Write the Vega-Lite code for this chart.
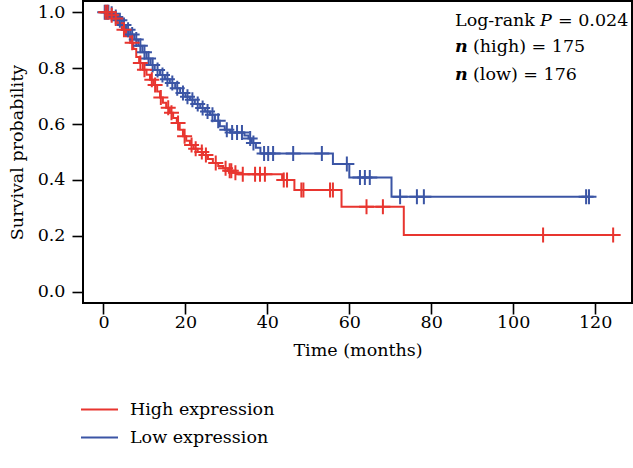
{
  "$schema": "https://vega.github.io/schema/vega-lite/v6.json",
  "autosize": {"type": "none"},
  "width": 549,
  "height": 302,
  "padding": {"left": 83, "top": 1, "right": 1, "bottom": 165},
  "background": "white",
  "config": {
    "view": {"stroke": "black", "strokeWidth": 2},
    "font": "DejaVu Serif",
    "axis": {"grid": false, "domain": false, "tickColor": "black", "tickWidth": 1.6, "tickSize": 11, "labelColor": "black", "titleColor": "black", "labelFont": "DejaVu Serif", "titleFont": "DejaVu Serif", "labelFontSize": 17.5, "titleFontSize": 17.5, "titleFontWeight": "normal"}
  },
  "datasets": {
    "km": [
    {"group": "Low expression", "kind": "step", "t": 0, "s": 1.0},
    {"group": "Low expression", "kind": "step", "t": 1.5, "s": 0.994},
    {"group": "Low expression", "kind": "step", "t": 2.5, "s": 0.983},
    {"group": "Low expression", "kind": "step", "t": 3.5, "s": 0.971},
    {"group": "Low expression", "kind": "step", "t": 4.5, "s": 0.954},
    {"group": "Low expression", "kind": "step", "t": 5.5, "s": 0.937},
    {"group": "Low expression", "kind": "step", "t": 6.5, "s": 0.920},
    {"group": "Low expression", "kind": "step", "t": 7.5, "s": 0.902},
    {"group": "Low expression", "kind": "step", "t": 8.5, "s": 0.880},
    {"group": "Low expression", "kind": "step", "t": 9.5, "s": 0.857},
    {"group": "Low expression", "kind": "step", "t": 10.5, "s": 0.834},
    {"group": "Low expression", "kind": "step", "t": 11.5, "s": 0.811},
    {"group": "Low expression", "kind": "step", "t": 12.5, "s": 0.793},
    {"group": "Low expression", "kind": "step", "t": 13.8, "s": 0.775},
    {"group": "Low expression", "kind": "step", "t": 15.0, "s": 0.760},
    {"group": "Low expression", "kind": "step", "t": 16.2, "s": 0.747},
    {"group": "Low expression", "kind": "step", "t": 17.5, "s": 0.728},
    {"group": "Low expression", "kind": "step", "t": 18.7, "s": 0.711},
    {"group": "Low expression", "kind": "step", "t": 20.0, "s": 0.698},
    {"group": "Low expression", "kind": "step", "t": 21.1, "s": 0.687},
    {"group": "Low expression", "kind": "step", "t": 22.3, "s": 0.672},
    {"group": "Low expression", "kind": "step", "t": 23.6, "s": 0.657},
    {"group": "Low expression", "kind": "step", "t": 24.8, "s": 0.645},
    {"group": "Low expression", "kind": "step", "t": 26.0, "s": 0.633},
    {"group": "Low expression", "kind": "step", "t": 27.2, "s": 0.612},
    {"group": "Low expression", "kind": "step", "t": 28.4, "s": 0.592},
    {"group": "Low expression", "kind": "step", "t": 29.6, "s": 0.580},
    {"group": "Low expression", "kind": "step", "t": 30.9, "s": 0.570},
    {"group": "Low expression", "kind": "step", "t": 34.4, "s": 0.559},
    {"group": "Low expression", "kind": "step", "t": 35.4, "s": 0.548},
    {"group": "Low expression", "kind": "step", "t": 36.2, "s": 0.532},
    {"group": "Low expression", "kind": "step", "t": 37.2, "s": 0.515},
    {"group": "Low expression", "kind": "step", "t": 38.3, "s": 0.495},
    {"group": "Low expression", "kind": "step", "t": 56.0, "s": 0.457},
    {"group": "Low expression", "kind": "step", "t": 60.0, "s": 0.409},
    {"group": "Low expression", "kind": "step", "t": 70.3, "s": 0.340},
    {"group": "Low expression", "kind": "step", "t": 118.5, "s": 0.340},
    {"group": "High expression", "kind": "step", "t": 0, "s": 1.0},
    {"group": "High expression", "kind": "step", "t": 1.5, "s": 0.989},
    {"group": "High expression", "kind": "step", "t": 2.5, "s": 0.977},
    {"group": "High expression", "kind": "step", "t": 3.5, "s": 0.960},
    {"group": "High expression", "kind": "step", "t": 4.5, "s": 0.937},
    {"group": "High expression", "kind": "step", "t": 5.5, "s": 0.914},
    {"group": "High expression", "kind": "step", "t": 6.5, "s": 0.891},
    {"group": "High expression", "kind": "step", "t": 7.3, "s": 0.868},
    {"group": "High expression", "kind": "step", "t": 8.0, "s": 0.840},
    {"group": "High expression", "kind": "step", "t": 8.7, "s": 0.818},
    {"group": "High expression", "kind": "step", "t": 9.6, "s": 0.794},
    {"group": "High expression", "kind": "step", "t": 10.5, "s": 0.776},
    {"group": "High expression", "kind": "step", "t": 11.35, "s": 0.758},
    {"group": "High expression", "kind": "step", "t": 12.2, "s": 0.740},
    {"group": "High expression", "kind": "step", "t": 13.1, "s": 0.716},
    {"group": "High expression", "kind": "step", "t": 13.8, "s": 0.695},
    {"group": "High expression", "kind": "step", "t": 14.5, "s": 0.676},
    {"group": "High expression", "kind": "step", "t": 15.3, "s": 0.658},
    {"group": "High expression", "kind": "step", "t": 16.2, "s": 0.640},
    {"group": "High expression", "kind": "step", "t": 17.0, "s": 0.622},
    {"group": "High expression", "kind": "step", "t": 17.9, "s": 0.604},
    {"group": "High expression", "kind": "step", "t": 18.6, "s": 0.580},
    {"group": "High expression", "kind": "step", "t": 19.4, "s": 0.556},
    {"group": "High expression", "kind": "step", "t": 20.2, "s": 0.540},
    {"group": "High expression", "kind": "step", "t": 21.1, "s": 0.525},
    {"group": "High expression", "kind": "step", "t": 22.0, "s": 0.512},
    {"group": "High expression", "kind": "step", "t": 23.0, "s": 0.500},
    {"group": "High expression", "kind": "step", "t": 24.3, "s": 0.489},
    {"group": "High expression", "kind": "step", "t": 25.5, "s": 0.475},
    {"group": "High expression", "kind": "step", "t": 26.7, "s": 0.461},
    {"group": "High expression", "kind": "step", "t": 28.0, "s": 0.450},
    {"group": "High expression", "kind": "step", "t": 29.2, "s": 0.442},
    {"group": "High expression", "kind": "step", "t": 30.4, "s": 0.433},
    {"group": "High expression", "kind": "step", "t": 31.6, "s": 0.426},
    {"group": "High expression", "kind": "step", "t": 33.0, "s": 0.420},
    {"group": "High expression", "kind": "step", "t": 43.6, "s": 0.400},
    {"group": "High expression", "kind": "step", "t": 46.6, "s": 0.364},
    {"group": "High expression", "kind": "step", "t": 58.1, "s": 0.304},
    {"group": "High expression", "kind": "step", "t": 73.3, "s": 0.203},
    {"group": "High expression", "kind": "step", "t": 124.4, "s": 0.203},
    {"group": "Low expression", "kind": "censor", "t": 0.3, "s": 1.0},
    {"group": "Low expression", "kind": "censor", "t": 0.8, "s": 1.0},
    {"group": "Low expression", "kind": "censor", "t": 1.2, "s": 1.0},
    {"group": "Low expression", "kind": "censor", "t": 2.0, "s": 0.994},
    {"group": "Low expression", "kind": "censor", "t": 3.0, "s": 0.983},
    {"group": "Low expression", "kind": "censor", "t": 4.0, "s": 0.971},
    {"group": "Low expression", "kind": "censor", "t": 5.0, "s": 0.954},
    {"group": "Low expression", "kind": "censor", "t": 6.0, "s": 0.937},
    {"group": "Low expression", "kind": "censor", "t": 7.0, "s": 0.920},
    {"group": "Low expression", "kind": "censor", "t": 8.0, "s": 0.902},
    {"group": "Low expression", "kind": "censor", "t": 9.0, "s": 0.880},
    {"group": "Low expression", "kind": "censor", "t": 10.0, "s": 0.857},
    {"group": "Low expression", "kind": "censor", "t": 11.0, "s": 0.834},
    {"group": "Low expression", "kind": "censor", "t": 12.0, "s": 0.811},
    {"group": "Low expression", "kind": "censor", "t": 13.2, "s": 0.793},
    {"group": "Low expression", "kind": "censor", "t": 14.4, "s": 0.775},
    {"group": "Low expression", "kind": "censor", "t": 15.6, "s": 0.760},
    {"group": "Low expression", "kind": "censor", "t": 16.8, "s": 0.747},
    {"group": "Low expression", "kind": "censor", "t": 18.0, "s": 0.728},
    {"group": "Low expression", "kind": "censor", "t": 19.4, "s": 0.711},
    {"group": "Low expression", "kind": "censor", "t": 20.5, "s": 0.698},
    {"group": "Low expression", "kind": "censor", "t": 21.7, "s": 0.687},
    {"group": "Low expression", "kind": "censor", "t": 23.0, "s": 0.672},
    {"group": "Low expression", "kind": "censor", "t": 24.2, "s": 0.657},
    {"group": "Low expression", "kind": "censor", "t": 25.4, "s": 0.645},
    {"group": "Low expression", "kind": "censor", "t": 26.6, "s": 0.633},
    {"group": "Low expression", "kind": "censor", "t": 28.0, "s": 0.612},
    {"group": "Low expression", "kind": "censor", "t": 30.1, "s": 0.580},
    {"group": "Low expression", "kind": "censor", "t": 31.4, "s": 0.570},
    {"group": "Low expression", "kind": "censor", "t": 32.6, "s": 0.570},
    {"group": "Low expression", "kind": "censor", "t": 33.8, "s": 0.570},
    {"group": "Low expression", "kind": "censor", "t": 35.8, "s": 0.548},
    {"group": "Low expression", "kind": "censor", "t": 36.6, "s": 0.532},
    {"group": "Low expression", "kind": "censor", "t": 39.2, "s": 0.495},
    {"group": "Low expression", "kind": "censor", "t": 40.2, "s": 0.495},
    {"group": "Low expression", "kind": "censor", "t": 41.4, "s": 0.495},
    {"group": "Low expression", "kind": "censor", "t": 46.3, "s": 0.495},
    {"group": "Low expression", "kind": "censor", "t": 53.3, "s": 0.495},
    {"group": "Low expression", "kind": "censor", "t": 59.4, "s": 0.457},
    {"group": "Low expression", "kind": "censor", "t": 62.6, "s": 0.409},
    {"group": "Low expression", "kind": "censor", "t": 63.8, "s": 0.409},
    {"group": "Low expression", "kind": "censor", "t": 65.0, "s": 0.409},
    {"group": "Low expression", "kind": "censor", "t": 72.4, "s": 0.340},
    {"group": "Low expression", "kind": "censor", "t": 76.5, "s": 0.340},
    {"group": "Low expression", "kind": "censor", "t": 78.2, "s": 0.340},
    {"group": "Low expression", "kind": "censor", "t": 117.8, "s": 0.340},
    {"group": "Low expression", "kind": "censor", "t": 118.5, "s": 0.340},
    {"group": "High expression", "kind": "censor", "t": 0.5, "s": 1.0},
    {"group": "High expression", "kind": "censor", "t": 1.0, "s": 1.0},
    {"group": "High expression", "kind": "censor", "t": 2.0, "s": 0.989},
    {"group": "High expression", "kind": "censor", "t": 3.0, "s": 0.977},
    {"group": "High expression", "kind": "censor", "t": 5.0, "s": 0.937},
    {"group": "High expression", "kind": "censor", "t": 7.0, "s": 0.891},
    {"group": "High expression", "kind": "censor", "t": 9.0, "s": 0.818},
    {"group": "High expression", "kind": "censor", "t": 10.0, "s": 0.794},
    {"group": "High expression", "kind": "censor", "t": 11.8, "s": 0.758},
    {"group": "High expression", "kind": "censor", "t": 12.6, "s": 0.740},
    {"group": "High expression", "kind": "censor", "t": 14.0, "s": 0.695},
    {"group": "High expression", "kind": "censor", "t": 15.8, "s": 0.658},
    {"group": "High expression", "kind": "censor", "t": 16.6, "s": 0.640},
    {"group": "High expression", "kind": "censor", "t": 18.2, "s": 0.604},
    {"group": "High expression", "kind": "censor", "t": 19.8, "s": 0.556},
    {"group": "High expression", "kind": "censor", "t": 21.5, "s": 0.525},
    {"group": "High expression", "kind": "censor", "t": 22.5, "s": 0.512},
    {"group": "High expression", "kind": "censor", "t": 24.0, "s": 0.500},
    {"group": "High expression", "kind": "censor", "t": 25.0, "s": 0.489},
    {"group": "High expression", "kind": "censor", "t": 27.4, "s": 0.461},
    {"group": "High expression", "kind": "censor", "t": 29.8, "s": 0.442},
    {"group": "High expression", "kind": "censor", "t": 30.8, "s": 0.433},
    {"group": "High expression", "kind": "censor", "t": 31.2, "s": 0.433},
    {"group": "High expression", "kind": "censor", "t": 32.2, "s": 0.426},
    {"group": "High expression", "kind": "censor", "t": 34.0, "s": 0.420},
    {"group": "High expression", "kind": "censor", "t": 37.0, "s": 0.420},
    {"group": "High expression", "kind": "censor", "t": 38.2, "s": 0.420},
    {"group": "High expression", "kind": "censor", "t": 39.4, "s": 0.420},
    {"group": "High expression", "kind": "censor", "t": 44.0, "s": 0.400},
    {"group": "High expression", "kind": "censor", "t": 44.8, "s": 0.400},
    {"group": "High expression", "kind": "censor", "t": 48.3, "s": 0.364},
    {"group": "High expression", "kind": "censor", "t": 48.8, "s": 0.364},
    {"group": "High expression", "kind": "censor", "t": 55.3, "s": 0.364},
    {"group": "High expression", "kind": "censor", "t": 56.0, "s": 0.364},
    {"group": "High expression", "kind": "censor", "t": 64.2, "s": 0.304},
    {"group": "High expression", "kind": "censor", "t": 68.2, "s": 0.304},
    {"group": "High expression", "kind": "censor", "t": 107.3, "s": 0.203},
    {"group": "High expression", "kind": "censor", "t": 124.4, "s": 0.203}
    ],
    "notes": [
      {"line": 1, "part": "a", "label": "Log-rank"},
      {"line": 1, "part": "b", "label": "P"},
      {"line": 1, "part": "c", "label": "= 0.024"},
      {"line": 2, "part": "a", "label": "n"},
      {"line": 2, "part": "c", "label": "(high) = 175"},
      {"line": 3, "part": "a", "label": "n"},
      {"line": 3, "part": "c", "label": "(low) = 176"}
    ]
  },
  "data": {"name": "km"},
  "layer": [
    {"transform": [{"filter": "datum.kind === 'step'"}],
     "mark": {"type": "line", "interpolate": "step-after", "strokeWidth": 2},
     "encoding": {
      "x": {"field": "t", "type": "quantitative", "scale": {"domain": [-5, 129], "nice": false, "zero": false},
        "axis": {"values": [0, 20, 40, 60, 80, 100, 120], "title": "Time (months)", "labelPadding": -1, "titlePadding": 11}},
      "y": {"field": "s", "type": "quantitative", "scale": {"domain": [-0.04, 1.04], "nice": false, "zero": false},
        "axis": {"values": [0, 0.2, 0.4, 0.6, 0.8, 1.0], "format": ".1f", "title": "Survival probability", "labelPadding": 7, "titlePadding": 11}},
      "color": {"field": "group", "type": "nominal",
      "scale": {"domain": ["High expression", "Low expression"], "range": ["#e8352f", "#3b55a5"]},
      "legend": {"orient": "none", "legendX": -3, "legendY": 389, "direction": "vertical", "title": null, "symbolType": "stroke", "symbolSize": 1369, "symbolStrokeWidth": 2, "labelFont": "DejaVu Serif", "labelFontSize": 17.5, "labelColor": "black", "labelOffset": 11, "rowPadding": -28}}}},
    {"transform": [{"filter": "datum.kind === 'censor'"}],
     "mark": {"type": "point", "shape": "M-1,0H1M0,-1V1", "filled": false, "size": 225, "strokeWidth": 2, "opacity": 1},
     "encoding": {
      "x": {"field": "t", "type": "quantitative"},
      "y": {"field": "s", "type": "quantitative"},
      "color": {"field": "group", "type": "nominal"}}},
    {"data": {"name": "notes"},
     "transform": [{"filter": "datum.part === 'a' && datum.line === 1"}],
     "mark": {"type": "text", "align": "left", "baseline": "middle", "font": "DejaVu Serif", "fontSize": 17.5, "fill": "black"},
     "encoding": {"x": {"datum": 85.8}, "y": {"datum": 0.969}, "text": {"field": "label"}}},
    {"data": {"name": "notes"},
     "transform": [{"filter": "datum.part === 'b' && datum.line === 1"}],
     "mark": {"type": "text", "align": "left", "baseline": "middle", "font": "DejaVu Serif", "fontSize": 17.5, "fill": "black", "fontStyle": "italic", "dx": 85},
     "encoding": {"x": {"datum": 85.8}, "y": {"datum": 0.969}, "text": {"field": "label"}}},
    {"data": {"name": "notes"},
     "transform": [{"filter": "datum.part === 'c' && datum.line === 1"}],
     "mark": {"type": "text", "align": "left", "baseline": "middle", "font": "DejaVu Serif", "fontSize": 17.5, "fill": "black", "dx": 103},
     "encoding": {"x": {"datum": 85.8}, "y": {"datum": 0.969}, "text": {"field": "label"}}},
    {"data": {"name": "notes"},
     "transform": [{"filter": "datum.part === 'a' && datum.line === 2"}],
     "mark": {"type": "text", "align": "left", "baseline": "middle", "font": "DejaVu Serif", "fontSize": 17.5, "fill": "black", "fontStyle": "italic", "fontWeight": "bold"},
     "encoding": {"x": {"datum": 85.8}, "y": {"datum": 0.874}, "text": {"field": "label"}}},
    {"data": {"name": "notes"},
     "transform": [{"filter": "datum.part === 'c' && datum.line === 2"}],
     "mark": {"type": "text", "align": "left", "baseline": "middle", "font": "DejaVu Serif", "fontSize": 17.5, "fill": "black", "dx": 18},
     "encoding": {"x": {"datum": 85.8}, "y": {"datum": 0.874}, "text": {"field": "label"}}},
    {"data": {"name": "notes"},
     "transform": [{"filter": "datum.part === 'a' && datum.line === 3"}],
     "mark": {"type": "text", "align": "left", "baseline": "middle", "font": "DejaVu Serif", "fontSize": 17.5, "fill": "black", "fontStyle": "italic", "fontWeight": "bold"},
     "encoding": {"x": {"datum": 85.8}, "y": {"datum": 0.775}, "text": {"field": "label"}}},
    {"data": {"name": "notes"},
     "transform": [{"filter": "datum.part === 'c' && datum.line === 3"}],
     "mark": {"type": "text", "align": "left", "baseline": "middle", "font": "DejaVu Serif", "fontSize": 17.5, "fill": "black", "dx": 18},
     "encoding": {"x": {"datum": 85.8}, "y": {"datum": 0.775}, "text": {"field": "label"}}}
  ]
}
